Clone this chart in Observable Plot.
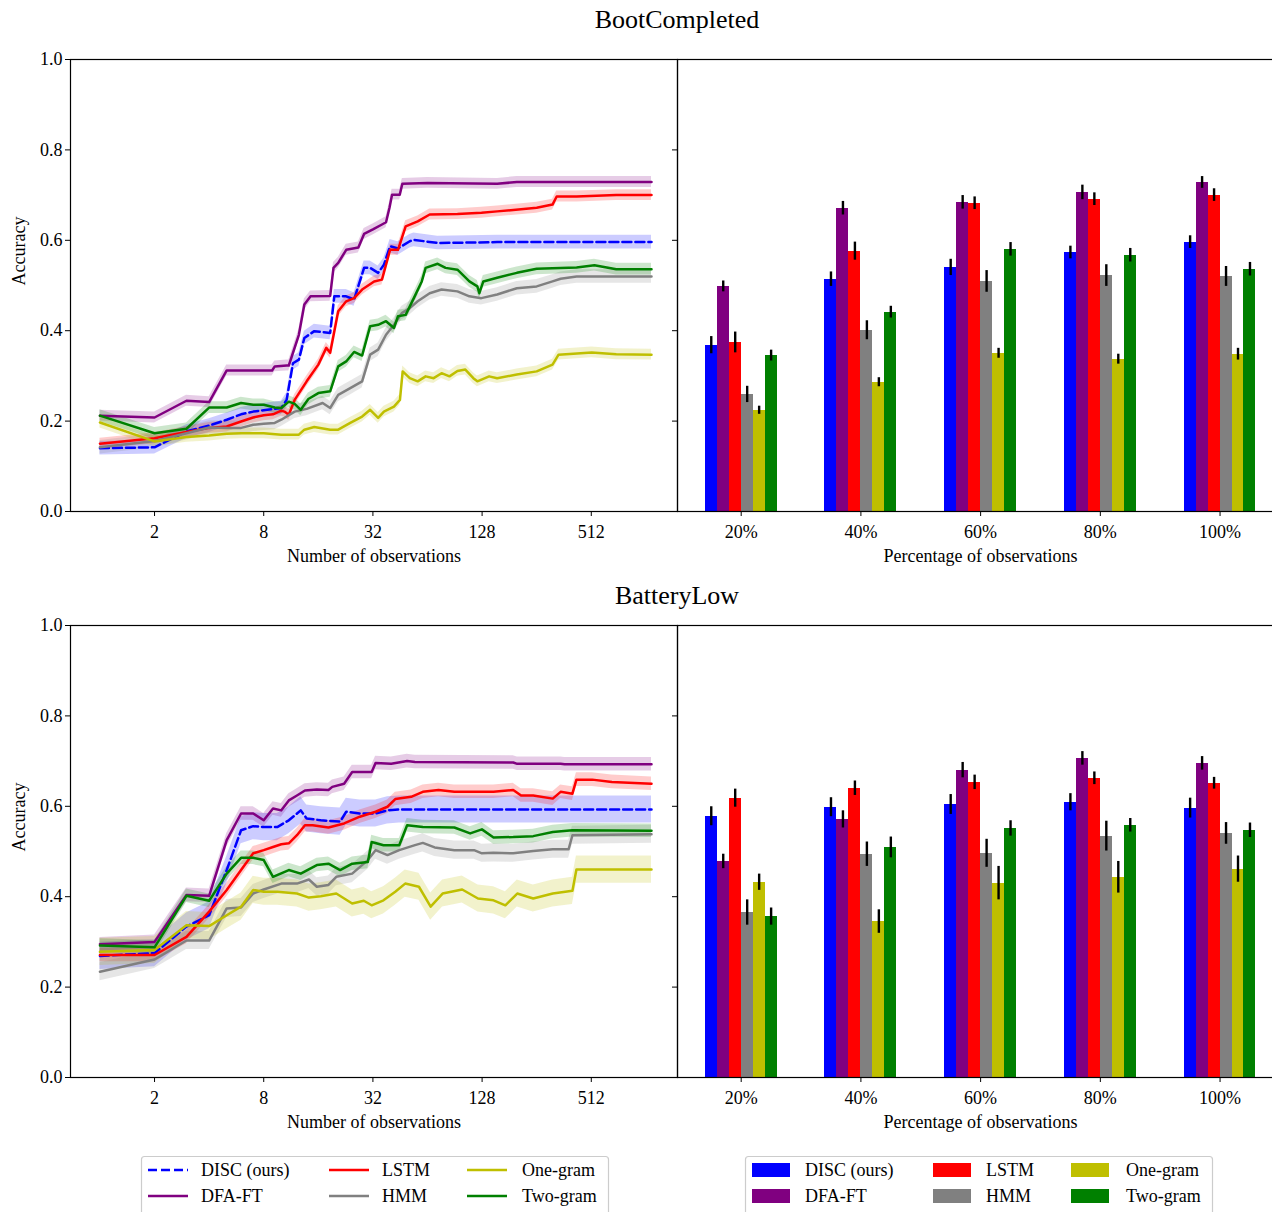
<!DOCTYPE html>
<html>
<head>
<meta charset="utf-8">
<script src="https://cdn.jsdelivr.net/npm/d3@7"></script>
<script src="https://cdn.jsdelivr.net/npm/@observablehq/plot@0.6"></script>
<style>
  html, body { margin: 0; padding: 0; background: #fff; overflow: hidden; }
  #root { position: relative; width: 1272px; height: 1212px; overflow: hidden; background: #fff;
          font-family: 'Liberation Serif', 'Times New Roman', serif; color: #000; }
  .title { position: absolute; width: 400px; text-align: center; font-size: 26px; line-height: 26px; }
</style>
</head>
<body>
<div id="root"></div>
<script>
// ---------------- data ----------------
const methods = ["DISC (ours)", "DFA-FT", "LSTM", "HMM", "One-gram", "Two-gram"];
const colors = ["#0000ff", "#800080", "#ff0000", "#808080", "#bfbf00", "#008000"];
const panelTitles = ["BootCompleted", "BatteryLow"];
const xTicks = [2, 8, 32, 128, 512];
const yTicks = [0, 0.2, 0.4, 0.6, 0.8, 1.0];
const barGroups = ["20%", "40%", "60%", "80%", "100%"];

// BootCompleted: accuracy vs number of observations
const bootX_DISC = [1,2,3,4,5,6,7,8,9.2,10,10.7,11.6,12.5,13.4,15.2,18.6,19.6,22.8,25.2,28.6,30.9,34.2,36.8,39.8,44,51.1,53.8,72.8,155,1100];
const bootY_DISC = [0.140,0.142,0.177,0.190,0.203,0.215,0.221,0.224,0.227,0.229,0.247,0.328,0.336,0.384,0.399,0.395,0.476,0.476,0.469,0.539,0.539,0.528,0.546,0.587,0.582,0.598,0.601,0.594,0.596,0.596];
const bootX_DFA = [1,2,3,4,5,8.9,9.2,10.7,11,12.5,13.4,14.5,18.6,19.4,20.6,22.8,26.6,28.6,32,35.9,37.8,39.5,40.8,45,46.5,64,155,199,1100];
const bootY_DFA = [0.212,0.208,0.245,0.242,0.312,0.312,0.321,0.323,0.323,0.391,0.458,0.476,0.477,0.539,0.550,0.579,0.584,0.614,0.624,0.635,0.640,0.672,0.701,0.701,0.725,0.727,0.725,0.729,0.729];
const bootX_LSTM = [1,2,3,4,5,6,7,8,9,10,10.4,11,11.85,13.8,16,17.7,18.6,20.6,22.8,25.2,27.9,32.5,35.9,39.8,44,48.5,56.5,65.8,93.6,127,155,256,313,330,425,703,1100];
const bootY_LSTM = [0.150,0.162,0.176,0.185,0.188,0.199,0.208,0.213,0.215,0.223,0.221,0.214,0.247,0.288,0.325,0.362,0.351,0.443,0.465,0.472,0.491,0.509,0.513,0.579,0.579,0.631,0.642,0.657,0.658,0.661,0.664,0.672,0.679,0.697,0.697,0.700,0.700];
const bootX_HMM = [1,2,3,4,5,6,7,8,9.2,10,11.85,13.8,16.9,18.6,20.6,24,27.9,30.9,34.2,37.8,41.8,46.2,51.1,56.5,65.8,76.5,93.6,108.9,126.7,155,199,256,313,347,425,1100];
const bootY_HMM = [0.142,0.156,0.173,0.186,0.185,0.185,0.192,0.194,0.196,0.203,0.221,0.227,0.240,0.229,0.258,0.273,0.288,0.347,0.358,0.391,0.413,0.439,0.450,0.465,0.483,0.491,0.487,0.476,0.472,0.480,0.494,0.498,0.509,0.515,0.520,0.520];
const bootX_One = [1,2,3,4,5,6,8,10,12.5,13.4,15.2,18.6,20.6,24,27.9,30.9,34.2,36.8,41.8,45.1,46.7,51.1,56.5,62.5,69.2,76.5,84.6,93.6,103.5,114.5,120.5,140,155,199,256,313,338,515,703,1100];
const bootY_One = [0.197,0.155,0.165,0.168,0.172,0.173,0.173,0.170,0.170,0.181,0.187,0.181,0.181,0.196,0.210,0.225,0.207,0.221,0.232,0.247,0.310,0.295,0.288,0.299,0.295,0.306,0.299,0.311,0.314,0.295,0.288,0.299,0.295,0.303,0.310,0.325,0.347,0.352,0.348,0.347];
const bootX_Two = [1,2,3,4,5,6,7,8,9.2,10,11,11.85,12.8,14.1,16,18.6,20.6,22.8,25.2,27.9,30.9,34.2,37.8,41.8,44,48.5,53.8,59.5,62.5,72.8,80.5,93.6,108.9,120.5,123.6,130,155,199,256,425,533,703,1100];
const bootY_Two = [0.212,0.173,0.183,0.230,0.230,0.240,0.236,0.236,0.230,0.229,0.243,0.238,0.225,0.249,0.262,0.266,0.321,0.332,0.353,0.345,0.410,0.413,0.421,0.406,0.432,0.435,0.472,0.509,0.539,0.548,0.539,0.535,0.509,0.498,0.483,0.509,0.517,0.528,0.537,0.540,0.545,0.536,0.536];
const bootBand = [0.015, 0.012, 0.012, 0.015, 0.012, 0.013];

// BatteryLow: accuracy vs number of observations
const battX_DISC = [1,2,3,4,5,6,7,8,9.5,11,12.8,13.8,16.5,21.1,22.8,27.1,33.1,38.5,44.7,1100];
const battY_DISC = [0.269,0.275,0.334,0.359,0.459,0.547,0.556,0.554,0.554,0.569,0.591,0.573,0.569,0.566,0.588,0.584,0.584,0.591,0.593,0.593];
const battX_DFA = [1,2,3,4,5,6,7,8,9,10,11,12.2,13.5,15.7,18.2,19.1,22.2,24.6,31.5,33.1,40.4,49.4,54.6,190,200,347,365,1100];
const battY_DFA = [0.295,0.300,0.404,0.402,0.525,0.584,0.584,0.569,0.595,0.591,0.613,0.624,0.635,0.637,0.636,0.643,0.650,0.676,0.676,0.696,0.694,0.700,0.698,0.697,0.694,0.694,0.693,0.693];
const battX_LSTM = [1,2,3,4,5,6,7,8,9,10,11,12.2,13.5,14.9,18.2,22.2,27.1,33.1,38.5,42.5,52,60.3,73.6,90,148,190,210,245,314,347,403,424,518,665,1100];
const battY_LSTM = [0.271,0.271,0.311,0.367,0.415,0.459,0.496,0.503,0.510,0.516,0.518,0.536,0.558,0.558,0.553,0.562,0.577,0.588,0.599,0.616,0.621,0.632,0.636,0.632,0.632,0.636,0.624,0.624,0.617,0.632,0.628,0.659,0.659,0.654,0.650];
const battX_HMM = [1,2,3,4,5,6,7,8,10,12.2,14.2,15.7,18.2,20.1,24.6,30,33.1,38.5,44.7,54.6,60.3,70.1,90,115.6,127.7,148,190,245,314,384,403,1100];
const battY_HMM = [0.234,0.261,0.303,0.303,0.374,0.376,0.407,0.416,0.429,0.429,0.438,0.422,0.426,0.444,0.451,0.481,0.503,0.492,0.503,0.514,0.519,0.509,0.503,0.503,0.496,0.497,0.496,0.501,0.505,0.505,0.536,0.538];
const battX_One = [1,2,3,4,5,6,7,8,9.5,12.2,14.2,16.5,20.1,24.6,28.5,31.5,36.6,42.5,48.2,57.4,66.6,77.5,99.4,121.5,148,172,200,245,314,403,424,1100];
const battY_One = [0.278,0.282,0.337,0.335,0.359,0.378,0.415,0.411,0.411,0.407,0.398,0.401,0.407,0.385,0.391,0.381,0.392,0.411,0.429,0.422,0.378,0.407,0.416,0.396,0.392,0.381,0.407,0.396,0.407,0.413,0.460,0.460];
const battX_Two = [1,2,3,4,5,6,7,8,9,11,12.8,15.7,18.2,21.1,24.6,30,31.5,36.6,44.7,49.4,60.3,90,110,127.7,148,190,245,314,403,1100];
const battY_Two = [0.292,0.288,0.402,0.391,0.451,0.486,0.486,0.481,0.444,0.459,0.451,0.470,0.473,0.459,0.473,0.477,0.521,0.514,0.514,0.558,0.554,0.553,0.540,0.549,0.531,0.532,0.534,0.543,0.547,0.546];
const battBand = [0.03, 0.015, 0.015, 0.02, 0.03, 0.015];

// Bars: accuracy vs percentage of observations (rows = methods, cols = groups)
const bootBarMean = [
  [0.368, 0.514, 0.540, 0.573, 0.596],
  [0.498, 0.671, 0.684, 0.706, 0.728],
  [0.374, 0.576, 0.682, 0.691, 0.700],
  [0.259, 0.401, 0.509, 0.522, 0.520],
  [0.224, 0.286, 0.350, 0.337, 0.348],
  [0.345, 0.441, 0.580, 0.567, 0.536]
];
const bootBarErr = [
  [0.019, 0.016, 0.018, 0.014, 0.014],
  [0.012, 0.015, 0.015, 0.016, 0.013],
  [0.023, 0.020, 0.014, 0.014, 0.014],
  [0.018, 0.021, 0.024, 0.024, 0.022],
  [0.009, 0.010, 0.011, 0.011, 0.013],
  [0.012, 0.013, 0.015, 0.015, 0.015]
];
const battBarMean = [
  [0.578, 0.598, 0.604, 0.609, 0.596],
  [0.478, 0.571, 0.680, 0.706, 0.695],
  [0.618, 0.640, 0.653, 0.662, 0.651],
  [0.365, 0.494, 0.496, 0.534, 0.540],
  [0.432, 0.345, 0.430, 0.443, 0.461],
  [0.356, 0.509, 0.551, 0.558, 0.547]
];
const battBarErr = [
  [0.021, 0.021, 0.022, 0.019, 0.022],
  [0.016, 0.019, 0.017, 0.015, 0.015],
  [0.020, 0.016, 0.016, 0.014, 0.013],
  [0.028, 0.027, 0.031, 0.033, 0.024],
  [0.018, 0.026, 0.037, 0.035, 0.029],
  [0.019, 0.023, 0.017, 0.015, 0.016]
];

// ---------------- helpers ----------------
const FONT = "'Liberation Serif', 'Times New Roman', serif";
const root = document.getElementById("root");
const DASH = "9,4";
const LW = 2.5;

function lineRows(xsList, ysList, bands) {
  return methods.flatMap((m, k) => xsList[k].map((x, i) => ({
    method: m, x, y: ysList[k][i], lo: ysList[k][i] - bands[k], hi: ysList[k][i] + bands[k]
  })));
}

function place(node, left, top) {
  node.style.position = "absolute";
  node.style.left = left + "px";
  node.style.top = top + "px";
  root.appendChild(node);
}

const plotStyle = { fontFamily: FONT, fontSize: "18px", background: "transparent", overflow: "visible", color: "#000" };

function linePanel(rows) {
  const disc = rows.filter(d => d.method === methods[0]);
  const rest = rows.filter(d => d.method !== methods[0]);
  return Plot.plot({
    width: 678, height: 571,
    marginLeft: 70, marginRight: 1, marginTop: 59, marginBottom: 60,
    style: plotStyle,
    x: { type: "log", base: 2, domain: [0.688, 1530], ticks: xTicks, tickFormat: d => String(d), tickSize: 5, tickPadding: 9, label: null },
    y: { domain: [0, 1], ticks: yTicks, tickFormat: ".1f", tickSize: 5, tickPadding: 3, label: null },
    color: { domain: methods, range: colors },
    marks: [
      Plot.areaY(rows, { x: "x", y1: "lo", y2: "hi", z: "method", fill: "method", fillOpacity: 0.2 }),
      Plot.lineY(disc, { x: "x", y: "y", stroke: "method", strokeWidth: LW, strokeDasharray: DASH }),
      Plot.lineY(rest, { x: "x", y: "y", z: "method", stroke: "method", strokeWidth: LW }),
      Plot.frame({ stroke: "#000", strokeWidth: 1.2 }),
      Plot.text(["Number of observations"], { frameAnchor: "bottom", dy: 50, fontSize: 18, fill: "#000" }),
      Plot.text(["Accuracy"], { frameAnchor: "left", rotate: -90, dx: -51, fontSize: 18, fill: "#000" })
    ]
  });
}

function barPanel(means, errs) {
  const bw = 0.1;
  const rows = [];
  methods.forEach((m, k) => barGroups.forEach((g, i) => rows.push({
    method: m, gi: i, k, mean: means[k][i], err: errs[k][i]
  })));
  return Plot.plot({
    width: 700, height: 571,
    marginLeft: 77, marginRight: 17, marginTop: 59, marginBottom: 60,
    style: plotStyle,
    x: { domain: [-0.532, 4.53], ticks: [0, 1, 2, 3, 4], tickFormat: i => barGroups[i], tickSize: 5, tickPadding: 9, label: null },
    y: { domain: [0, 1], ticks: yTicks, tickFormat: () => "", tickSize: 5, label: null },
    color: { domain: methods, range: colors },
    marks: [
      Plot.rect(rows, {
        x1: d => d.gi + (d.k - 3) * bw, x2: d => d.gi + (d.k - 2) * bw,
        y1: 0, y2: "mean", fill: "method", shapeRendering: "crispEdges"
      }),
      Plot.ruleX(rows, {
        x: d => d.gi + (d.k - 2.5) * bw,
        y1: d => d.mean - d.err, y2: d => d.mean + d.err,
        stroke: "#000", strokeWidth: 2.4
      }),
      Plot.frame({ stroke: "#000", strokeWidth: 1.2 }),
      Plot.text(["Percentage of observations"], { frameAnchor: "bottom", dy: 50, fontSize: 18, fill: "#000" })
    ]
  });
}

// ---------------- titles ----------------
[[panelTitles[0], 7], [panelTitles[1], 583]].forEach(([t, top]) => {
  const d = document.createElement("div");
  d.className = "title";
  d.textContent = t;
  d.style.left = (677 - 200) + "px";
  d.style.top = top + "px";
  root.appendChild(d);
});

// ---------------- panels ----------------
const bootRows = lineRows(
  [bootX_DISC, bootX_DFA, bootX_LSTM, bootX_HMM, bootX_One, bootX_Two],
  [bootY_DISC, bootY_DFA, bootY_LSTM, bootY_HMM, bootY_One, bootY_Two], bootBand);
const battRows = lineRows(
  [battX_DISC, battX_DFA, battX_LSTM, battX_HMM, battX_One, battX_Two],
  [battY_DISC, battY_DFA, battY_LSTM, battY_HMM, battY_One, battY_Two], battBand);

place(linePanel(bootRows), 0, 0);
place(barPanel(bootBarMean, bootBarErr), 600, 0);
place(linePanel(battRows), 0, 566);
place(barPanel(battBarMean, battBarErr), 600, 566);

// ---------------- legends ----------------
const legSvg = d3.create("svg").attr("width", 1272).attr("height", 62)
  .style("font-family", FONT).style("font-size", "18px");
const legTop = 1152;
const rowsY = [18, 44];
// layout: column-major, 2 rows x 3 columns
function legendBox(x0, kind) {
  const g = legSvg.append("g");
  g.append("rect").attr("x", x0 + 0.5).attr("y", 4.5).attr("width", 467).attr("height", 70)
    .attr("rx", 3).attr("fill", "#fff").attr("stroke", "#cccccc").attr("stroke-width", 1.2);
  const colSwatch = [7, 188, 326];
  const colText = [60, 241, 381];
  methods.forEach((m, k) => {
    const c = Math.floor(k / 2), r = k % 2;
    const y = rowsY[r];
    if (kind === "line") {
      g.append("line").attr("x1", x0 + colSwatch[c]).attr("x2", x0 + colSwatch[c] + 40)
        .attr("y1", y).attr("y2", y).attr("stroke", colors[k]).attr("stroke-width", LW)
        .attr("stroke-dasharray", k === 0 ? DASH : null);
    } else {
      g.append("rect").attr("x", x0 + colSwatch[c]).attr("y", y - 7).attr("width", 38).attr("height", 14)
        .attr("fill", colors[k]);
    }
    g.append("text").attr("x", x0 + colText[c]).attr("y", y).attr("dy", "0.33em")
      .attr("fill", "#000").text(m);
  });
}
legendBox(141, "line");
legendBox(745, "patch");
place(legSvg.node(), 0, legTop);
</script>
</body>
</html>
